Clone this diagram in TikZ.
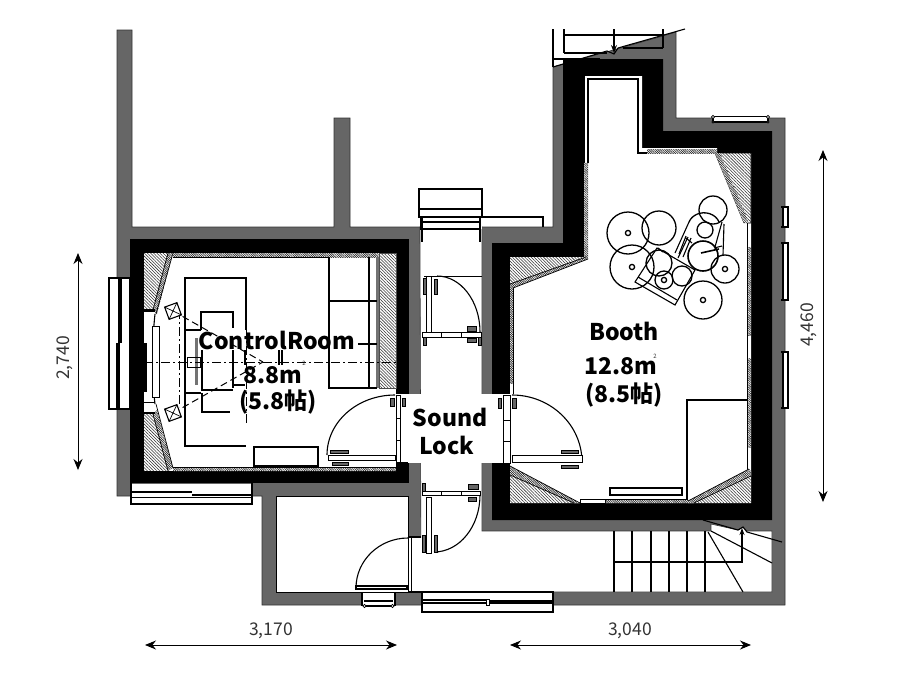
\documentclass[tikz,border=0pt]{standalone}
\usepackage{fontspec}
\setmainfont{Noto Sans CJK JP}
\newfontfamily\dimfont{Noto Sans CJK JP}
\usetikzlibrary{patterns.meta,arrows.meta}
\definecolor{wallgray}{RGB}{102,102,102}
\tikzset{
 wall/.style={fill=wallgray,draw=black!80,line width=.6pt},
 hole/.style={fill=white,draw=none},
 solidblk/.style={fill=black,draw=none},
 hatch/.style={pattern={Lines[angle=-45,distance=2.2pt,line width=.55pt]},pattern color=black!80},
 strip/.style={pattern={Lines[angle=-45,distance=1.6pt,line width=.7pt]},pattern color=black!85},
 ln/.style={draw=black,line width=1.1pt},
 fine/.style={draw=black,line width=.7pt},
 thk/.style={draw=black,line width=1.5pt},
 leaf/.style={fill=white,draw=black,line width=.9pt},
 hw/.style={fill=black!60,draw=black,line width=.6pt},
 axis/.style={draw=black,line width=1pt,dash pattern=on 9pt off 3pt on 2pt off 3pt},
 beam/.style={draw=black,line width=1pt,dash pattern=on 7pt off 4pt},
 drum/.style={draw=black,line width=1.3pt},
 label/.style={font=\bfseries\fontsize{23}{25}\selectfont,inner sep=0pt},
 dimlab/.style={font=\dimfont\fontsize{17.5}{19}\selectfont,inner sep=0pt,text=black!80},
 supr/.style={font=\dimfont\fontsize{6}{6}\selectfont,inner sep=0pt,text=black!80},
 dimarr/.style={draw=black,line width=.9pt,{Stealth[length=11pt,width=9pt]}-{Stealth[length=11pt,width=9pt]}},
}
\begin{document}
\begin{tikzpicture}[x=1pt,y=-1pt]
\useasboundingbox (0,0) rectangle (900,675);
% walls
\path[wall] (117,30)--(132,30)--(132,227)--(334,227)--(334,118)--(350,118)--(350,227)--(553,227)--(553,67)--(663,36)--(676,32)--(676,118)--(785,118)--(785,605)--(262,605)--(262,496)--(117,496)--cycle;
% hall + stair
\path[wall,fill=white,draw=black!80] (420,227)--(482,227)--(482,531)--(711,531)--(711,524)--(738,530)--(743,527)--(747,531)--(772,531)--(772,592)--(421,592)--cycle;
\path[hole] (421.5,226) rectangle (481.5,229);
% bottom room
\path[wall,fill=white,draw=black] (276,496) rectangle (408,592);
\path[hole] (408.5,538) rectangle (421.5,591.6);
\draw[ln] (408,537) -- (421,537);
\draw[fine] (408,538) -- (408,592) (411,538) -- (411,592);
\draw[ln] (408,592)--(421,592);
% control room
\path[solidblk] (130,239) rectangle (409,483);
\path[hole] (144,253) rectangle (396,471);
\path[hole] (396,394) rectangle (422,463);
% booth
\path[solidblk] (563,59)--(663,59)--(663,131)--(772,131)--(772,520)--(492,520)--(492,243)--(563,243)--cycle;
\path[hole] (584,76)--(642,76)--(642,148)--(717,148)--(717,153)--(751,153)--(751,503)--(510,503)--(510,257)--(584,257)--cycle;
\path[hole] (481,394) rectangle (510,463);
\draw[ln] (588,163)--(588,79)--(638,79)--(638,153)--(647,153);
\draw[fine] (584,76)--(584,163);
% booth hatching
\path[strip] (584,163) rectangle (588,257);
\path[strip] (647,149) rectangle (717,153);
\path[hatch,draw=black,line width=.6pt] (717,153)--(751,153)--(751,223)--(747,223)--cycle;
\draw[fine] (715,153)--(744,223);
\path[hole] (715,153)--(720,153)--(749,223)--(744,223)--cycle;
\path[strip] (715,153)--(720,153)--(749,223)--(744,223)--cycle;
\path[hatch] (510,257)--(586,257)--(510,284)--cycle;
\path[hole] (510,284)--(586,257)--(588,257)--(588,259)--(513,288)--(510,288)--cycle;
\path[strip] (510,284)--(586,257)--(588,257)--(588,259)--(513,288)--(510,288)--cycle;
\draw[fine] (510,284)--(586,257) (513,288)--(588,259);
\path[strip] (510,288) rectangle (513,383);
\draw[fine] (513,288)--(513,394);
\path[strip] (747,247) rectangle (751,335);
\path[strip] (747,358) rectangle (751,447);
\draw[fine] (747,223)--(747,470);
\path[hatch] (510,475)--(574,503)--(510,503)--cycle;
\path[hole] (510,466)--(580,503)--(574,503)--(510,475)--cycle;
\path[strip] (510,466)--(580,503)--(574,503)--(510,475)--cycle;
\draw[fine] (510,466)--(580,503) (510,475)--(574,503);
\draw[fine] (580,499) rectangle (605,503);
\path[strip] (605,499) rectangle (688,503);
\draw[fine] (605,499)--(688,499);
\path[hatch] (694,503)--(751,476)--(751,503)--cycle;
\path[hole] (688,501)--(749,469)--(751,471)--(751,476)--(694,503)--(688,503)--cycle;
\path[strip] (688,501)--(749,469)--(751,471)--(751,476)--(694,503)--(688,503)--cycle;
\draw[fine] (688,501)--(749,469) (694,503)--(751,476);
\draw[ln,line width=1.3pt] (747,400)--(687,400)--(687,500);
\draw[ln] (610,488) rectangle (682,495);
% control room hatching
\path[strip] (173,253) rectangle (379,257);
\path[strip] (173,467) rectangle (396,471);
\draw[fine] (173,257)--(329,257) (173,467)--(396,467);
\path[hatch,draw=black!70,line width=.5pt] (379,253) rectangle (396,388);
\path[fill=black!55] (376,257) rectangle (379,388);
\path[hatch] (144,253)--(168,253)--(153,310)--(144,310)--cycle;
\path[strip] (168,253)--(173,253)--(157,314)--(153,310)--cycle;
\draw[fine] (168,253)--(153,310) (173,253)--(156,314);
\path[hatch] (144,414)--(153,414)--(168,471)--(144,471)--cycle;
\path[strip] (153,414)--(157,410)--(173,468)--(168,471)--cycle;
\draw[fine] (153,414)--(168,471) (156,404)--(173,468);
% console lining
\draw[fine] (144,311)--(155,311) (144,402)--(155,402);
\draw[ln,line width=1.4pt] (144,310)--(155,310) (144,413)--(155,413);
\draw[ln] (155,314) .. controls (152,340) and (152,380) .. (155,404);
\draw[fine,fill=white] (152,326) rectangle (159,397);
\path[fill=black] (144,343) rectangle (147,392);
% couch
\draw[ln] (329,257)--(329,388)--(377,388) (329,301)--(377,301) (369,257)--(369,388) (358,344)--(377,344);
% desk
\draw[ln] (246,330)--(246,278)--(185,278)--(185,446)--(246,446);
\draw[ln] (201,330)--(201,312)--(233,312)--(233,328) (185,330)--(201,330) (185,393)--(201,393);
\draw[ln] (201,390)--(233,390) (202,393)--(202,412)--(230,412);
\draw[ln,line width=2.2pt] (233,350)--(233,388);
\draw[ln,line width=1.6pt] (202,350)--(202,390);
\path[fill=black!55] (195,338) rectangle (198,385);
\draw[fine] (187,357) rectangle (200,367);
\draw[ln] (233,385)--(245,385);
\draw[ln] (245,350)--(245,365) (279,350)--(279,365) (282,350)--(282,365);
\draw[ln] (254,447) rectangle (318,466);
% speakers & listening axes
\coordinate (spkT) at (173,311);
\coordinate (spkB) at (173,413);
\coordinate (sweet) at (263,362);
\draw[beam] (spkT)--(sweet);
\draw[beam] (spkB)--(sweet);
\draw[axis] (144,362)--(396,362);
\draw[axis] (179,310)--(179,407);
\draw[axis] (246,278)--(246,425);
\foreach \p in {spkT,spkB}{
 \draw[fill=white,line width=1.1pt,rotate around={20:(\p)}] ([shift={(-6.5,-6.5)}]\p) rectangle ([shift={(6.5,6.5)}]\p);
 \draw[fine,rotate around={20:(\p)}] ([shift={(-6.5,-6.5)}]\p)--([shift={(6.5,6.5)}]\p) ([shift={(-6.5,6.5)}]\p)--([shift={(6.5,-6.5)}]\p);
}
% left window
\path[hole] (108,277) rectangle (130,410);
\draw[ln] (109,278) rectangle (130,409);
\draw[line width=3.5pt] (120,278)--(120,343);
\draw[line width=3.5pt] (118,343)--(118,408);
% bottom windows of control room
\path[hole] (131,484) rectangle (252,504);
\draw[ln] (131,483)--(131,504)--(252,504)--(252,483);
\draw[line width=2.5pt] (131,492)--(192,492);
\draw[line width=2.5pt] (192,495)--(252,495);
\draw[ln] (131,497.5)--(252,497.5);
% corridor top
\draw[ln] (419,189) rectangle (482,209);
\path[hole] (419.5,209.5) rectangle (481.5,217);
\draw[ln] (419,209) rectangle (482,217);
\draw[ln] (482,217)--(543,217)--(543,227);
\draw[ln,line width=1.4pt] (419,217)--(482,217);
\draw[ln] (421,217) rectangle (480,229);
\draw[line width=1.6pt] (421,222)--(480,222);
\draw[thk] (422,217)--(422,242) (480,217)--(480,242);
% door: corridor north
\draw[fine] (424,276)--(482,276);
\draw[ln] (437,276) arc (270:360:43 and 56);
\draw[leaf] (426,276) rectangle (431,332);
\draw[leaf] (422,332) rectangle (481,337);
\draw[fine] (441,332)--(441,337) (461,332)--(461,337);
\draw[hw] (423,278) rectangle (426,294);
\draw[hw] (434,279) rectangle (437,294);
\draw[hw] (467,326) rectangle (476,331);
\draw[hw] (467,338) rectangle (476,342);
\draw[hw] (423,337) rectangle (426,345);
\draw[hw] (478,337) rectangle (481,345);
% door: control room
\draw[ln] (395,395) arc (270:180:68 and 60);
\draw[leaf] (328,455) rectangle (395,460);
\draw[leaf] (396,395) rectangle (400,463);
\draw[fine] (396,418)--(400,418) (396,440)--(400,440);
\draw[hw] (330,450) rectangle (348,453.5);
\draw[hw] (332,462) rectangle (348,465);
\draw[hw] (390,398) rectangle (394,406);
\draw[hw] (402,398) rectangle (405,406);
\path[fill=black] (396,462) rectangle (408,466);
% door: booth
\draw[ln] (512,395) arc (270:360:70 and 67);
\draw[leaf] (512,455) rectangle (582,462);
\draw[leaf] (503,395) rectangle (510,463);
\draw[fine] (503,420)--(510,420) (503,441)--(510,441);
\draw[hw] (561,450) rectangle (578,453);
\draw[hw] (561,465) rectangle (578,468);
\draw[hw] (498,398) rectangle (501,408);
\draw[hw] (512,398) rectangle (516,408);
% door: corridor south
\draw[ln] (480,495) arc (0:90:46 and 57);
\draw[leaf] (426,497) rectangle (431,553);
\draw[leaf] (422,491) rectangle (480,495);
\draw[fine] (441,491)--(441,495) (461,491)--(461,495);
\draw[hw] (422,535) rectangle (425,552);
\draw[hw] (434,535) rectangle (437,552);
\draw[hw] (468,484) rectangle (478,489);
\draw[hw] (468,497) rectangle (476,501);
\draw[hw] (422,483) rectangle (425,491);
% door: bottom room
\draw[ln] (408,538) arc (270:180:52 and 50);
\draw[ln] (356,586) rectangle (407,589);
% bottom window small
\path[hole] (362,592.5) rectangle (395,607);
\draw[ln] (362,592)--(362,606) (395,592)--(395,606) (364,601)--(393,601);
\draw[line width=1.3pt] (364,606)--(393,606);
\draw[fine,fill=white] (364.5,606) circle (1.6) (392.5,606) circle (1.6);
% bottom window large
\path[hole] (422,593) rectangle (553,606);
\draw[ln] (422,592) rectangle (553,612);
\draw[line width=1.8pt] (422,600)--(486,600);
\draw[line width=1.8pt] (486,601)--(553,601);
\draw[ln] (422,603)--(553,603);
\draw[fine,fill=white] (486,599) rectangle (489,605);
\path[hole] (423,606) rectangle (552,611);
\draw[ln] (422,606) -- (422,613) (553,606)--(553,613);
\draw[line width=1.2pt] (422,612)--(553,612);
% stairs
\foreach \x in {614,632,651,669,687,705}{\draw[ln] (\x,531)--(\x,592);}
\draw[ln] (614,562)--(742,562)--(742,543);
\draw[ln] (708,532)--(743,592);
\draw[ln] (711,531)--(772,563);
\draw[ln] (703,520)--(738,530)--(743,527)--(747,532)--(782,542);
\draw[ln,-{Stealth[open,length=7pt,width=5pt]}] (742,546)--(742,528);
% top stair
\draw[ln] (553,29)--(553,67) (564,29)--(564,53) (564,35)--(663,35) (663,29)--(663,48) (623,48)--(663,48) (564,53)--(607,53) (554,59)--(600,59);
\draw[ln] (553,67)--(607,51)--(614,54)--(618,48)--(685,29);
\draw[ln,-{Stealth[open,length=8pt,width=6pt]}] (614,29)--(614,53);
% right windows
\foreach \a/\b in {207/227,243/300,352/408}{
 \path[hole] (783,\a) rectangle (788,\b);
 \draw[ln] (783,\a) rectangle (788,\b);
 \draw[line width=1.4pt] (781,\a)--(789,\a) (781,\b)--(789,\b);
}
\path[hole] (713,116.5) rectangle (768,122);
\draw[ln] (713,116.5) rectangle (768,122);
\draw[fine,fill=white] (713,117) circle (1.6) (768,117) circle (1.6) (713,122) circle (1.2) (768,122) circle (1.2);
% drum kit
\draw[ln] (657,248)--(695,270)--(675,305)--(635,282)--cycle;
\draw[ln] (638,277)--(677,300);
\foreach \x/\y/\r in {628/233/21,632/267/22,659/228/17,659/263/13,664/280/9,682/276/10,725/269/14,703/300/19,713/210/14,705/230/8}{
 \draw[drum] (\x,\y) circle (\r);
}
\draw[drum,line width=1.6pt] (703,256) circle (15);
\foreach \x/\y in {628/233,632/267,664/280,725/269,703/300}{\draw[drum] (\x,\y) circle (2.6);}
\draw[drum] (689,222) arc (200:340:16 and 14);
\draw[ln] (675,253)--(689,222) (683,257)--(691,238) (723,255)--(724,224) (715,247)--(722,222) (679,254)--(686,236) (686,238)--(692,243);
\draw[ln] (678,258)--(688,237);
\draw[ln,line width=1.6pt] (701,253)--(719,249);
\draw[ln] (658,248)--(663,252) (714,248)--(722,246);
% dimensions
\coordinate (dAl) at (145,645); \coordinate (dAr) at (397,645);
\coordinate (dBl) at (510,645); \coordinate (dBr) at (751,645);
\coordinate (dCt) at (78,253); \coordinate (dCb) at (78,470);
\coordinate (dDt) at (823,150); \coordinate (dDb) at (823,502);
\draw[dimarr] (dAl)--(dAr);
\draw[dimarr] (dBl)--(dBr);
\draw[dimarr] (dCt)--(dCb);
\draw[dimarr] (dDt)--(dDb);
\node[dimlab] (t3170) at (271,631) {3,170};
\node[dimlab] (t3040) at (630,631) {3,040};
\node[dimlab,rotate=90] (t2740) at (65,358) {2,740};
\node[dimlab,rotate=90] (t4460) at (809,325) {4,460};
% labels
\node[label] (tCR) at (277,340) {ControlRoom};
\node[label] (tCa) at (273,375) {8.8m};
\node[supr] (tCa2) at (304,363) {2};
\node[label] (tCb) at (278,402) {(5.8帖)};
\node[label] (tS) at (450,417) {Sound};
\node[label] (tL) at (447,445) {Lock};
\node[label] (tB) at (624,331) {Booth};
\node[label] (tBa) at (621,366) {12.8m};
\node[supr] (tBa2) at (655,356) {2};
\node[label] (tBb) at (624,395) {(8.5帖)};
\end{tikzpicture}
\end{document}
